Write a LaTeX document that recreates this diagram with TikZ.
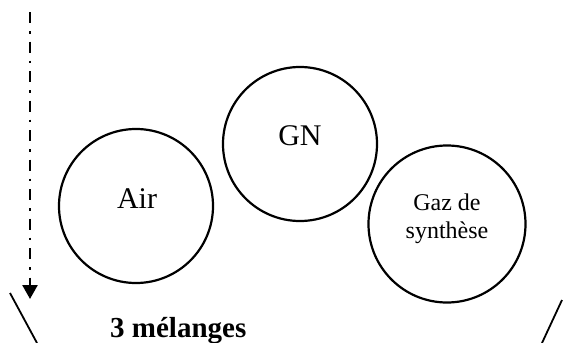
\documentclass[tikz,border=0pt]{standalone}
\usepackage{fontspec}
\setmainfont{Liberation Serif}
\usetikzlibrary{arrows.meta}
\begin{document}
\begin{tikzpicture}[x=1pt,y=-1pt,
  bubble/.style={circle,draw,line width=2.2pt,minimum size=154pt,inner sep=0pt,align=center},
  wall/.style={line width=1.8pt}]
\useasboundingbox (0,0) rectangle (563,343);
\node[bubble] (air) at (136,206) {};
\node[bubble] (gn) at (300,144) {};
\node[bubble,minimum size=157pt] (gaz) at (447,224) {};
\node[font=\fontsize{30}{32}\selectfont,inner sep=0pt] (airt) at (137,199) {Air};
\node[font=\fontsize{30}{32}\selectfont,inner sep=0pt] (gnt) at (300,136) {GN};
\node[font=\fontsize{24}{28}\selectfont,align=center,inner sep=0pt,anchor=base] (gazt) at (447,238) {Gaz de\\synthèse};
\coordinate (s) at (30,12);
\coordinate (e) at (30,299);
\draw[line width=2.6pt,dash pattern=on 11pt off 8pt on 2.5pt off 8pt,-{Triangle[width=15pt,length=14pt]}] (s) -- (e);
\coordinate (l1) at (10,293);
\coordinate (l2) at (37,343);
\coordinate (r1) at (562,300);
\coordinate (r2) at (542,343);
\draw[wall] (l1) -- (l2);
\draw[wall] (r1) -- (r2);
\node[font=\fontsize{29}{30}\selectfont\bfseries,anchor=base west,inner sep=0pt] (mix) at (110,337) {3 mélanges};
\end{tikzpicture}
\end{document}
